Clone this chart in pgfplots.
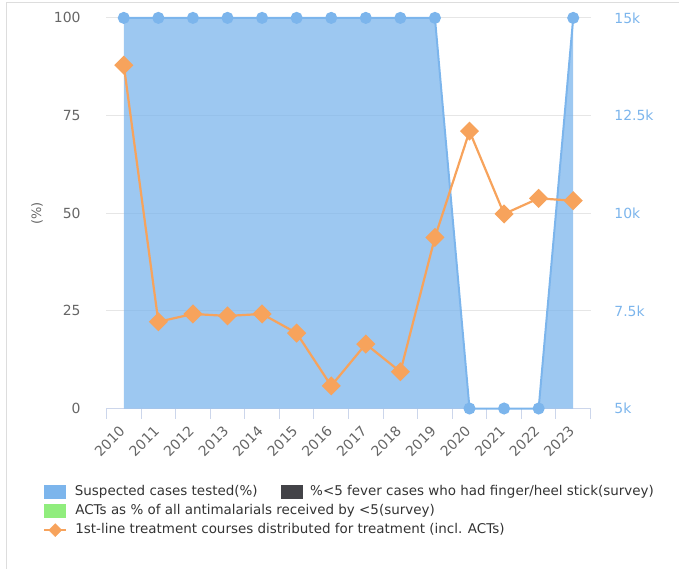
\documentclass[border=0pt]{standalone}
\usepackage{fontspec}
\setmainfont{DejaVu Sans}
\usepackage{pgfplots}
\usepackage{pgfplotstable}
\pgfplotsset{compat=1.18}

\definecolor{hcblue}{HTML}{7CB5EC}
\definecolor{hcdark}{HTML}{434348}
\definecolor{hcgreen}{HTML}{90ED7D}
\definecolor{hcorange}{HTML}{F7A35C}
\definecolor{hcgrid}{HTML}{E6E6E6}
\definecolor{hcaxis}{HTML}{CCD6EB}
\definecolor{hclabel}{HTML}{666666}
\definecolor{hclegend}{HTML}{333333}
\definecolor{hcframe}{HTML}{DDDDDD}

% x = category index (2010 -> 0)
\pgfplotstableread{
x  year tested courses
0  2010 100    87.9
1  2011 100    22.2
2  2012 100    24.2
3  2013 100    23.7
4  2014 100    24.2
5  2015 100    19.3
6  2016 100    5.8
7  2017 100    16.5
8  2018 100    9.4
9  2019 100    43.8
10 2020 0      71.0
11 2021 0      49.8
12 2022 0      53.8
13 2023 100    53.2
}\malaria

\pgfplotsset{
  hcbox/.style={legend image code/.code={\fill[##1, draw=none] (0bp,-7bp) rectangle (22bp,7bp);}},
  hcdiamond/.style={legend image code/.code={%
    \draw[hcorange, line width=2bp] (0bp,0bp) -- (22bp,0bp);
    \fill[hcorange] (11bp,6.5bp) -- (17.5bp,0bp) -- (11bp,-6.5bp) -- (4.5bp,0bp) -- cycle;}},
}

\begin{document}
\begin{tikzpicture}
\path[use as bounding box] (-106.5bp,-160.5bp) rectangle (572.5bp,408.5bp);
\draw[hcframe, line width=1bp] (-99.5bp,-160.5bp) -- (-99.5bp,405.5bp) -- (572.5bp,405.5bp);

\begin{axis}[
  scale only axis, width=484bp, height=390.6bp,
  xmin=-0.5, xmax=13.5, ymin=0, ymax=100,
  clip=false,
  axis x line*=bottom, axis y line*=left,
  x axis line style={draw=hcaxis, line width=1bp, -},
  y axis line style={draw=none},
  xtick={0,...,13},
  xticklabels={2010,2011,2012,2013,2014,2015,2016,2017,2018,2019,2020,2021,2022,2023},
  major x tick style={draw=none},
  minor xtick={-0.5,0.5,...,13.5},
  minor x tick style={draw=hcaxis, line width=1bp},
  minor tick length=10bp, tick align=outside,
  xticklabel style={font=\fontsize{14}{16}\selectfont, text=hclabel, inner sep=0pt,
    xshift=2bp, yshift=-19.5bp, rotate=45, anchor=base east},
  ytick={0,25,50,75,100},
  yticklabels={0,25,50,75,100},
  ytick style={draw=none},
  yticklabel style={font=\fontsize{14}{16}\selectfont, text=hclabel, inner sep=0pt,
    anchor=east, xshift=-21.5bp},
  ymajorgrids, major grid style={draw=hcgrid, line width=1bp},
  ylabel={(\%)},
  ylabel style={at={(-0.1436,0.5)}, anchor=center, font=\fontsize{13}{15}\selectfont, text=hclabel},
  legend columns=2,
  legend cell align=left,
  legend style={at={(-0.1306,-0.197)}, anchor=north west, draw=none, fill=none,
    inner sep=0pt, outer sep=0pt, row sep=5bp,
    font=\fontsize{13.5}{15}\selectfont, text=hclegend,
    nodes={inner sep=0pt, text height=10bp, text depth=3bp},
    /tikz/every odd column/.append style={column sep=7.6bp},
    /tikz/every even column/.append style={column sep=23bp}},
]
\addlegendimage{hcbox, fill=hcblue}
\addlegendentry{Suspected cases tested(\%)}
\addlegendimage{hcbox, fill=hcdark}
\addlegendentry{\%<5 fever cases who had finger/heel stick(survey)}
\addlegendimage{hcbox, fill=hcgreen}
\addlegendentry{\makebox[0pt][l]{ACTs as \% of all antimalarials received by <5(survey)}}
\addlegendimage{empty legend}
\addlegendentry{}
\addlegendimage{hcdiamond}
\addlegendentry{\makebox[0pt][l]{1st-line treatment courses distributed for treatment (incl. ACTs)}}

% suspected cases tested: area + line
\addplot[draw=none, fill=hcblue, fill opacity=0.75, forget plot]
  table[x=x, y=tested]{\malaria} \closedcycle;
\addplot[hcblue, line width=2bp, mark=*, mark size=5bp,
  mark options={fill=hcblue, draw=none}, forget plot]
  table[x=x, y=tested]{\malaria};
% treatment courses
\addplot[hcorange, line width=2.2bp, mark=square*, mark size=5.66bp,
  mark options={rotate=45, fill=hcorange, draw=none}, forget plot]
  table[x=x, y=courses]{\malaria};
\end{axis}

% right-hand axis (no series drawn on it)
\begin{axis}[
  scale only axis, width=484bp, height=390.6bp,
  xmin=-0.5, xmax=13.5, ymin=5000, ymax=15000,
  axis x line=none, axis y line*=right,
  y axis line style={draw=none},
  scaled y ticks=false,
  ytick={5000,7500,10000,12500,15000},
  yticklabels={5k,7.5k,10k,12.5k,15k},
  ytick style={draw=none},
  yticklabel style={font=\fontsize{14}{16}\selectfont, text=hcblue, inner sep=0pt,
    anchor=west, xshift=23.7bp},
]
\end{axis}
\end{tikzpicture}
\end{document}
